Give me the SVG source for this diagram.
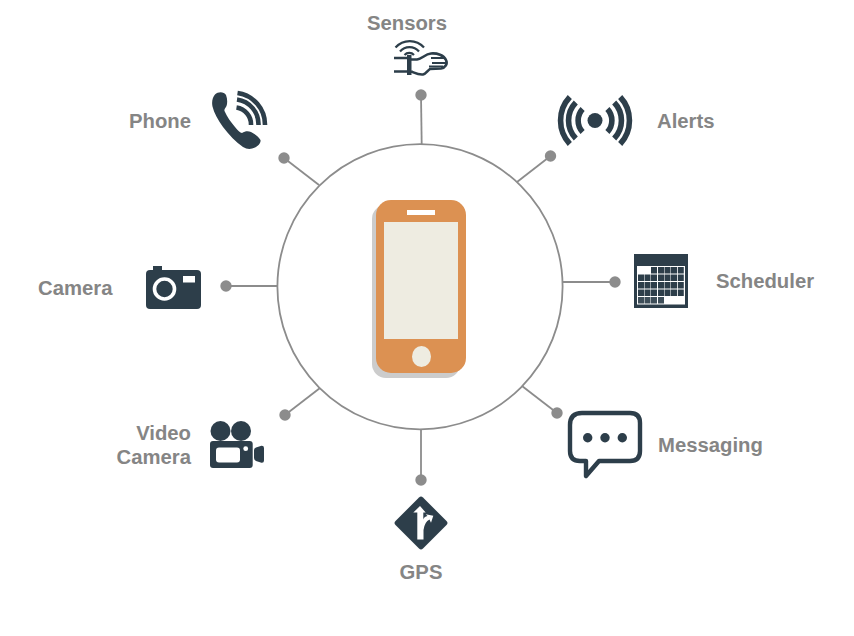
<svg xmlns="http://www.w3.org/2000/svg" width="854" height="636" viewBox="0 0 854 636">
<style>
.lbl{font:bold 20.300px "Liberation Sans",Arial,sans-serif;fill:#858585}
.d{fill:#2d3e4a}
.ds{fill:none;stroke:#2d3e4a}
.w{fill:#fff}
.con{stroke:#8c8c8c;stroke-width:1.800;fill:none}
.dot{fill:#8c8c8c}
</style>
<rect width="854" height="636" fill="#fff"/>
<g id="connectors">
<line class="con" x1="421" y1="95" x2="421.700" y2="144"/><circle class="dot" cx="421" cy="95" r="5.700"/>
<line class="con" x1="550.500" y1="156" x2="517" y2="182"/><circle class="dot" cx="550.500" cy="156" r="5.700"/>
<line class="con" x1="615" y1="282" x2="563" y2="282"/><circle class="dot" cx="615" cy="282" r="5.700"/>
<line class="con" x1="557" y1="413" x2="522" y2="386"/><circle class="dot" cx="557" cy="413" r="5.700"/>
<line class="con" x1="421" y1="480" x2="421" y2="430"/><circle class="dot" cx="421" cy="480" r="5.700"/>
<line class="con" x1="285" y1="415" x2="320" y2="388"/><circle class="dot" cx="285" cy="415" r="5.700"/>
<line class="con" x1="226" y1="286" x2="277" y2="286"/><circle class="dot" cx="226" cy="286" r="5.700"/>
<line class="con" x1="284" y1="158" x2="319" y2="185"/><circle class="dot" cx="284" cy="158" r="5.700"/>
</g>
<g id="hub">
<circle cx="420" cy="286.700" r="142.600" fill="#fff" stroke="#8c8c8c" stroke-width="1.800"/>
<rect x="372" y="205" width="88" height="173" rx="14" fill="#cccccc"/>
<rect x="376" y="200" width="90" height="173" rx="15" fill="#dc9152"/>
<rect x="384" y="222" width="74" height="117" fill="#eeece1"/>
<rect x="407" y="210" width="28" height="5" fill="#fff"/>
<ellipse cx="421.500" cy="356.500" rx="9.500" ry="10.500" fill="#eeece1"/>
</g>
<g id="sensors">
<text class="lbl" x="407" y="30" text-anchor="middle">Sensors</text>
<g class="ds" stroke-width="2.600">
<path d="M395.500 47.500A19 19 0 0 1 424 47.500M400 51.500A12.500 12.500 0 0 1 419 51.500M404.500 55A6.500 6.500 0 0 1 414 55" stroke-width="2.200"/>
<path d="M394 58H408M394 71.500H408"/>
<path d="M411 59.500H417C422 59 425 54 431 53.500C437 53 444 55 446 60C448 64 445 68 441 68.500L430 69C427 71 426 74 423 74.500C418 75 414 72.500 411 71.500"/>
<path d="M431 58H445M432 63H447M429 66.500H443" stroke-width="1.800"/>
</g>
<rect class="d" x="407" y="55" width="4.500" height="20"/>
</g>
<g id="phone">
<text class="lbl" x="191" y="128" text-anchor="end">Phone</text>
<path class="d" d="M215 94.500C218 91.500 224 91.500 226 95C227.500 99 227.500 103 226.500 106C225.500 108 224 109 224.500 111C227 117 231 122 235 127C238 130.500 240 133 242 133C245 131 248 130.500 251 132C255 134 259 137 260.500 140C261 143 258 146 255 147.500C251 149.500 247 149.500 243 147C236 142 229 135 223 127C218 120 214 113 212.500 106.500C211.500 102 212.500 97 215 94.500Z"/>
<path class="ds" stroke-width="4.600" d="M236.500 107.500A17 17 0 0 1 251 125M237 99.500A25 25 0 0 1 258.500 125M237.500 93A32 32 0 0 1 265 125"/>
</g>
<g id="alerts">
<text class="lbl" x="657" y="128">Alerts</text>
<circle class="d" cx="595" cy="120.500" r="7.500"/>
<g class="ds" stroke-width="5.600">
<path d="M582.600 109A17 17 0 0 0 582.600 132M575.800 102.500A26 26 0 0 0 575.800 138.500M569.800 97A34.500 34.500 0 0 0 569.800 144"/>
<path d="M607.400 109A17 17 0 0 1 607.400 132M614.200 102.500A26 26 0 0 1 614.200 138.500M620.200 97A34.500 34.500 0 0 1 620.200 144"/>
</g>
</g>
<g id="scheduler">
<text class="lbl" x="716" y="288">Scheduler</text>
<rect class="d" x="634" y="254" width="54" height="54"/>
<rect class="w" x="637" y="266" width="48" height="38.500"/>
<path class="d" d="M651 267h6v6.500h-6zM658 267h6v6.500h-6zM664.500 267h6v6.500h-6zM671 267h6v6.500h-6zM677.800 267h6v6.500h-6z"/>
<path class="d" d="M638 274.500h6v6.500h-6zM644.500 274.500h6v6.500h-6zM651 274.500h6v6.500h-6zM658 274.500h6v6.500h-6zM664.500 274.500h6v6.500h-6zM671 274.500h6v6.500h-6zM677.800 274.500h6v6.500h-6z"/>
<path class="d" d="M638 282h6v6.500h-6zM644.500 282h6v6.500h-6zM651 282h6v6.500h-6zM658 282h6v6.500h-6zM664.500 282h6v6.500h-6zM671 282h6v6.500h-6zM677.800 282h6v6.500h-6z"/>
<path class="d" d="M638 289.500h6v6.500h-6zM644.500 289.500h6v6.500h-6zM651 289.500h6v6.500h-6zM658 289.500h6v6.500h-6zM664.500 289.500h6v6.500h-6zM671 289.500h6v6.500h-6zM677.800 289.500h6v6.500h-6z"/>
<path fill="#3e4e59" d="M638 297h6v6.500h-6zM644.500 297h6v6.500h-6zM651 297h6v6.500h-6zM658 297h6v6.500h-6z"/>
</g>
<g id="camera">
<text class="lbl" x="38" y="295">Camera</text>
<rect class="d" x="153" y="266" width="9" height="6"/>
<rect class="d" x="146" y="270" width="55" height="39" rx="4"/>
<circle class="d" cx="164.500" cy="289" r="10" stroke="#fff" stroke-width="3.600"/>
<rect class="w" x="183" y="276" width="12" height="6.500"/>
</g>
<g id="video-camera">
<text class="lbl" x="191" y="440" text-anchor="end">Video</text>
<text class="lbl" x="191" y="464" text-anchor="end">Camera</text>
<circle class="d" cx="220.500" cy="431" r="10"/>
<circle class="d" cx="241" cy="431" r="10"/>
<rect class="d" x="210" y="441" width="42.700" height="27" rx="3"/>
<rect class="w" x="216" y="447.500" width="24" height="15" rx="3"/>
<circle class="w" cx="245.700" cy="448.700" r="2.400"/>
<path class="d" d="M256 447.500L261.500 445.700Q264 445.500 264 448V460.500Q264 463 261.500 462.700L256 461Q254 460 254 458V450Q254 448 256 447.500Z"/>
</g>
<g id="gps">
<text class="lbl" x="421" y="579" text-anchor="middle">GPS</text>
<path class="d" d="M419 497.500Q421 495.500 423 497.500L446.500 521Q448.500 523 446.500 525L423 548.500Q421 550.500 419 548.500L395.500 525Q393.500 523 395.500 521Z"/>
<path class="w" d="M420 506L425.700 512.500H423.300V519.500Q424 516.500 427.500 516L425.700 514.300L433.300 515.700L431 522.700L429.500 519.500Q424.500 522 423.500 530V539.500H417.300V512.500H413.300Z"/>
</g>
<g id="messaging">
<text class="lbl" x="658" y="452">Messaging</text>
<path class="ds" stroke-width="4.400" stroke-linejoin="round" d="M582 413H630Q640 413 640 423V451Q640 461 630 461H599L586 476V461H580Q570 461 570 451V425Q570 413 582 413Z"/>
<circle class="d" cx="587.700" cy="437.700" r="4.700"/>
<circle class="d" cx="605" cy="437.700" r="4.700"/>
<circle class="d" cx="622.300" cy="437.700" r="4.700"/>
</g>
</svg>
